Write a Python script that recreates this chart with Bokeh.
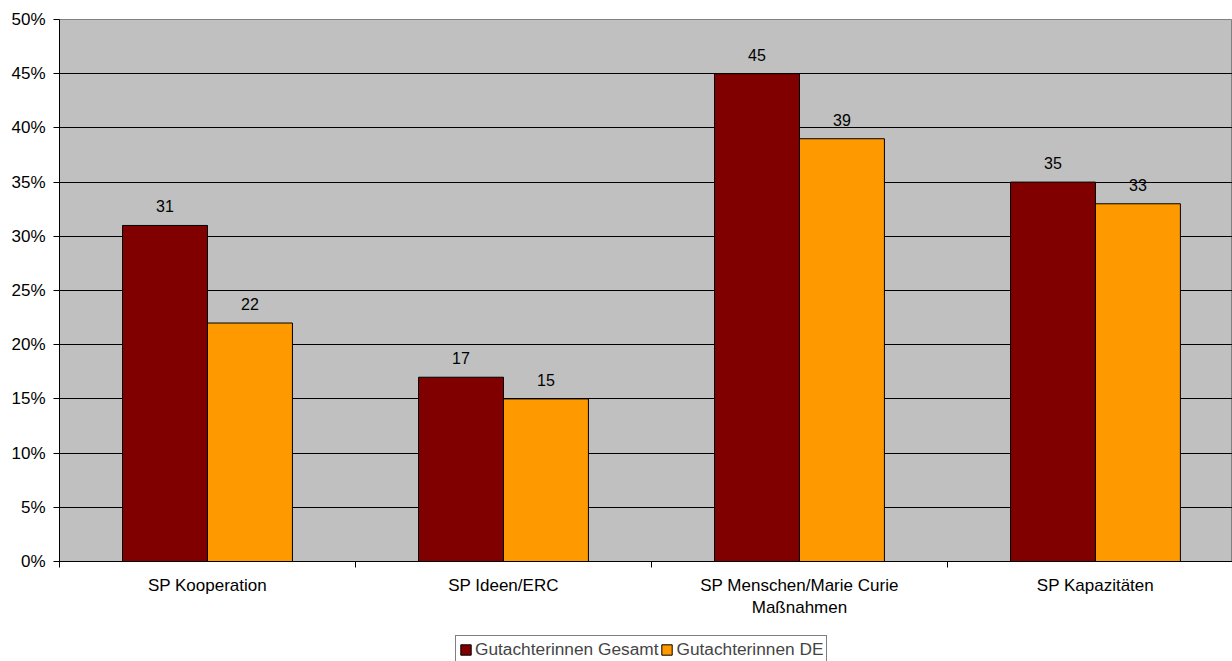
from bokeh.plotting import figure
from bokeh.layouts import column
from bokeh.models import (ColumnDataSource, Range1d, FixedTicker, Legend, LegendItem)
from bokeh.core.properties import value
from bokeh.embed import file_html
from bokeh.resources import INLINE

categories = ["SP Kooperation", "SP Ideen/ERC", "SP Menschen/Marie Curie\nMaßnahmen", "SP Kapazitäten"]
gesamt = [31, 17, 45, 35]
de = [22, 15, 39, 33]
series_names = ["Gutachterinnen Gesamt", "Gutachterinnen DE"]
y_ticks = [0, 5, 10, 15, 20, 25, 30, 35, 40, 45, 50]
colors = ["#800000", "#FF9900"]

FONT = "Liberation Sans"
BAR_W = 0.287
centers = [i + 0.5 for i in range(len(categories))]

src_g = ColumnDataSource(dict(x=[c - BAR_W / 2 for c in centers], top=gesamt,
                              label=[str(v) for v in gesamt]))
src_d = ColumnDataSource(dict(x=[c + BAR_W / 2 for c in centers], top=de,
                              label=[str(v) for v in de]))

p = figure(width=1232, height=635, output_backend="svg", toolbar_location=None,
           x_range=Range1d(0, 3.963), y_range=Range1d(0, 50),
           min_border_left=59, min_border_right=0, min_border_top=19, min_border_bottom=74)
p.background_fill_color = "#C0C0C0"
p.border_fill_color = "white"
p.outline_line_color = "#808080"
p.outline_line_width = 1

# grid
p.xgrid.visible = False
p.ygrid.ticker = FixedTicker(ticks=y_ticks)
p.ygrid.grid_line_color = "black"
p.ygrid.grid_line_width = 1
p.ygrid.grid_line_alpha = 1.0

# bars
for src, col in zip((src_g, src_d), colors):
    p.vbar(x="x", top="top", width=BAR_W, bottom=0, source=src,
           fill_color=col, line_color="black", line_width=1)

# value labels
for src in (src_g, src_d):
    p.text(x="x", y="top", text="label", source=src, text_align="center",
           text_baseline="alphabetic", y_offset=-19, text_font=value(FONT),
           text_font_size="16px", text_color="black")

# y axis
p.yaxis.ticker = FixedTicker(ticks=y_ticks)
p.yaxis.major_label_overrides = {t: f"{t}%" for t in y_ticks}
p.yaxis.major_label_text_font = FONT
p.yaxis.major_label_text_font_size = "17px"
p.yaxis.major_label_text_color = "black"
p.yaxis.major_tick_out = 6
p.yaxis.major_tick_in = 0
p.yaxis.minor_tick_out = 0
p.yaxis.minor_tick_in = 0
p.yaxis.major_label_standoff = 8
p.yaxis.axis_line_color = "black"
p.yaxis.major_tick_line_color = "black"

# x axis: labels at category centres, ticks at boundaries
p.xaxis.ticker = FixedTicker(ticks=centers, minor_ticks=[0, 1, 2, 3, 4])
p.xaxis.major_label_overrides = {c: lab for c, lab in zip(centers, categories)}
p.xaxis.major_label_text_font = FONT
p.xaxis.major_label_text_font_size = "17px"
p.xaxis.major_label_text_color = "black"
p.xaxis.major_tick_out = 0
p.xaxis.major_tick_in = 0
p.xaxis.minor_tick_out = 6
p.xaxis.minor_tick_in = 0
p.xaxis.minor_tick_line_color = "black"
p.xaxis.major_label_standoff = 8
p.xaxis.axis_line_color = "black"

# legend strip underneath the chart; its bars sit outside the visible range
leg = figure(width=1232, height=26, output_backend="svg", toolbar_location=None,
             x_axis_location=None, y_axis_location=None,
             x_range=Range1d(100, 101), y_range=Range1d(100, 101),
             min_border_left=0, min_border_right=0, min_border_top=0, min_border_bottom=0)
leg.grid.visible = False
leg.outline_line_color = None
leg.background_fill_color = "white"
leg.border_fill_color = "white"
leg_renderers = [leg.vbar(x="x", top="top", width=BAR_W, bottom=0, source=src,
                          fill_color=col, line_color="black", line_width=1)
                 for src, col in zip((src_g, src_d), colors)]

legend = Legend(items=[LegendItem(label=name, renderers=[r])
                       for name, r in zip(series_names, leg_renderers)],
                orientation="horizontal", location=(396, -3),
                border_line_color="black", border_line_width=1,
                background_fill_color="white", background_fill_alpha=1.0,
                label_text_font=FONT, label_text_font_size="17.3px",
                glyph_width=13, glyph_height=13, label_standoff=3, spacing=2,
                padding=3, margin=0, label_height=17)
leg.add_layout(legend, "center")

layout = column(p, leg, spacing=0)
open("out.html", "w").write(file_html(layout, INLINE))
